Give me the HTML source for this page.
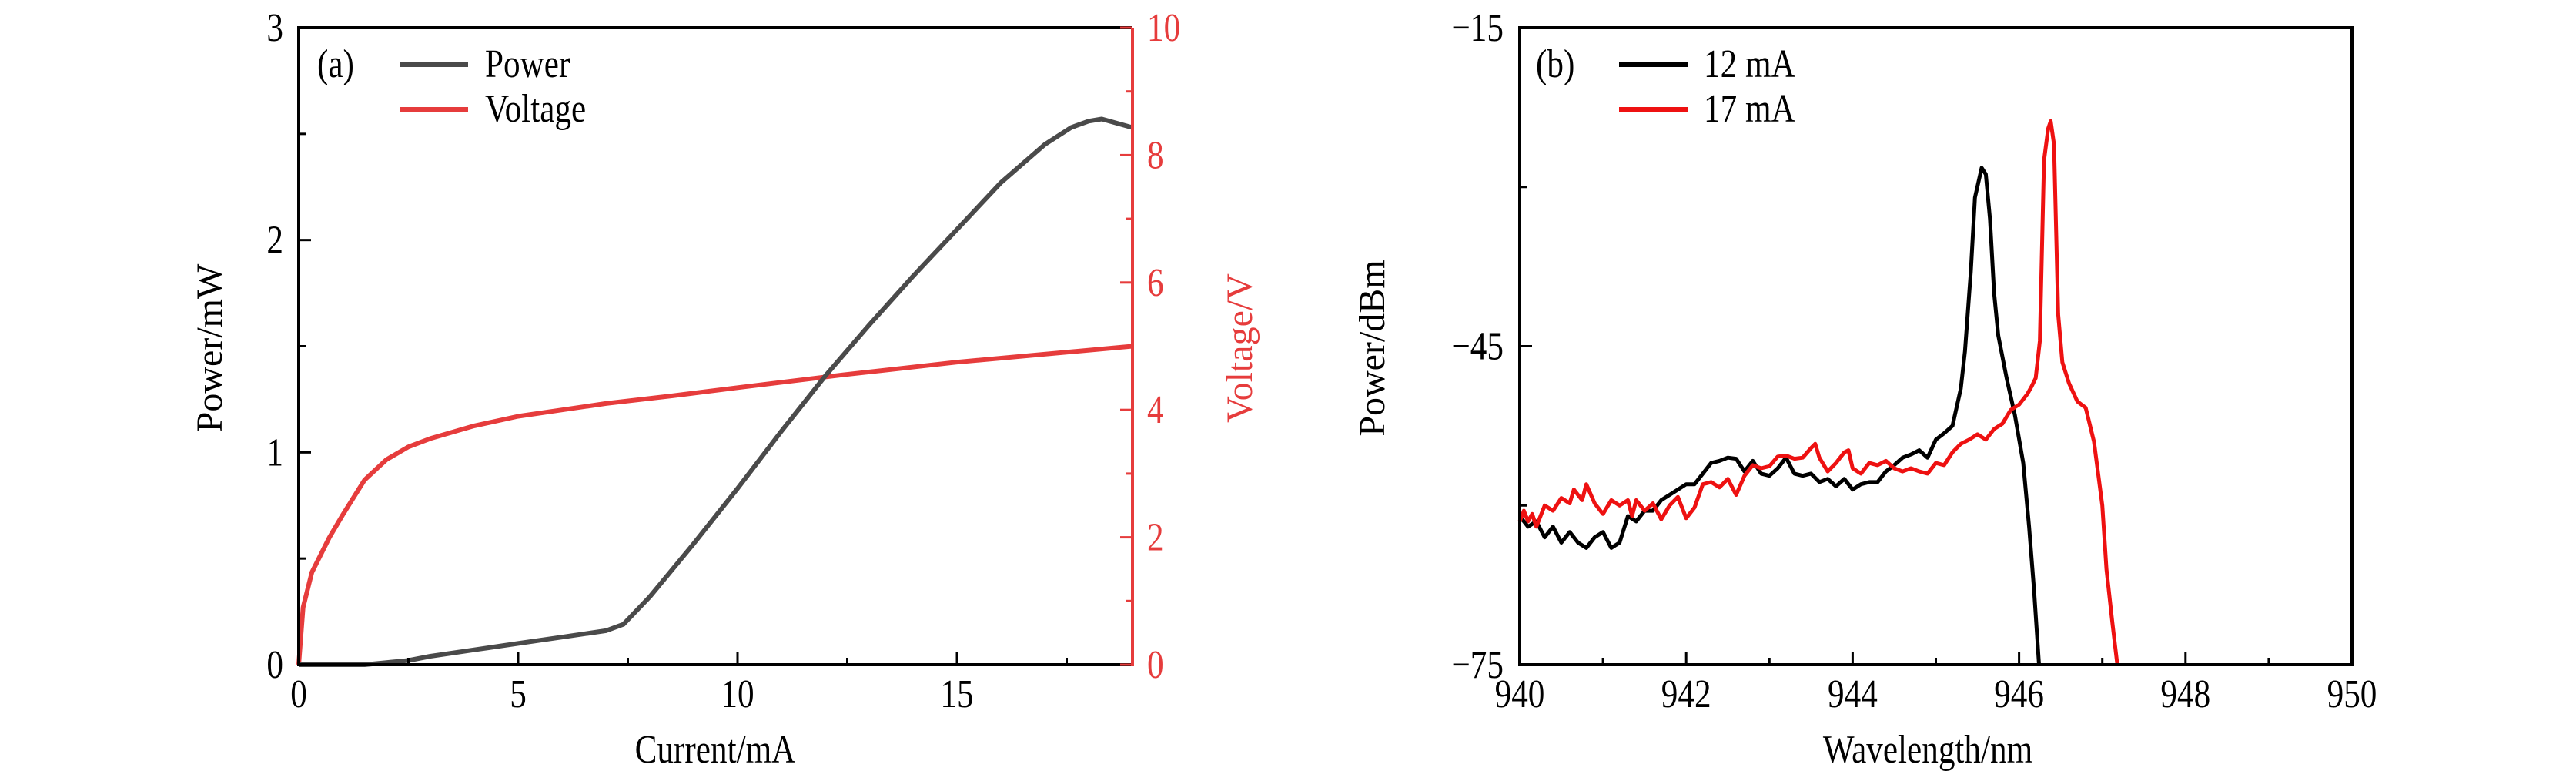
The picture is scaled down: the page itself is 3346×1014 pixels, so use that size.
<!DOCTYPE html>
<html><head><meta charset="utf-8"><style>
html,body{margin:0;padding:0;background:#fff;}
svg{display:block;font-family:"Liberation Serif",serif;}
</style></head><body>
<svg id="fig" width="3346" height="1014" viewBox="0 0 3346 1014" xmlns="http://www.w3.org/2000/svg">
<g id="pa"></g>
<g id="pb"></g>
</svg>
<script>
// Panel (a) data
const currentA = [0,0.1,0.3,0.7,1,1.5,2,2.5,3,4,5,6,7,8.5,10,12.4,15,19];
const voltageA = [0,0.9,1.45,2.0,2.35,2.9,3.22,3.42,3.55,3.75,3.9,4.0,4.1,4.22,4.35,4.55,4.75,5.0];
const currentP = [0,1.5,2,2.5,3,4,5,6,7,7.4,8,9,10,11,12,13,14,15,16,17,17.6,18,18.3,19];
const powerP = [0,0,0.01,0.02,0.04,0.07,0.10,0.13,0.16,0.19,0.32,0.57,0.83,1.1,1.36,1.6,1.83,2.05,2.27,2.45,2.53,2.56,2.57,2.53];
const xTicksA = [0,5,10,15];
const yTicksA = [0,1,2,3];
const y2TicksA = [0,2,4,6,8,10];
// Panel (b) data
const wl12 = [940.0,940.1,940.2,940.3,940.4,940.5,940.6,940.7,940.8,940.9,941.0,941.1,941.2,941.3,941.4,941.5,941.6,941.7,941.8,941.9,942.0,942.1,942.2,942.3,942.4,942.5,942.6,942.7,942.8,942.9,943.0,943.1,943.2,943.3,943.4,943.5,943.6,943.7,943.8,943.9,944.0,944.1,944.2,944.3,944.4,944.5,944.6,944.7,944.8,944.9,945.0,945.1,945.2,945.3,945.35,945.42,945.47,945.55,945.6,945.65,945.7,945.75,945.85,945.95,946.05,946.12,946.18,946.24];
const db12 = [-61,-62,-61.5,-63,-62,-63.5,-62.5,-63.5,-64,-63,-62.5,-64,-63.5,-61,-61.5,-60.5,-60.5,-59.5,-59,-58.5,-58,-58,-57,-56,-55.8,-55.5,-55.6,-56.8,-55.8,-57,-57.2,-56.5,-55.5,-57,-57.2,-57,-57.8,-57.5,-58.2,-57.5,-58.5,-58,-57.8,-57.8,-56.8,-56.2,-55.5,-55.2,-54.8,-55.5,-53.8,-53.2,-52.5,-49,-45.5,-38,-31,-28.2,-28.8,-33,-40,-44,-48,-51.5,-56,-62,-68,-75];
const wl17 = [940.0,940.05,940.1,940.15,940.2,940.3,940.4,940.5,940.6,940.65,940.75,940.8,940.9,941.0,941.1,941.2,941.3,941.35,941.4,941.5,941.6,941.7,941.8,941.9,942.0,942.1,942.2,942.3,942.4,942.5,942.6,942.7,942.8,942.9,943.0,943.1,943.2,943.3,943.4,943.5,943.55,943.6,943.7,943.8,943.9,943.95,944.0,944.1,944.2,944.3,944.4,944.5,944.6,944.7,944.8,944.9,945.0,945.1,945.2,945.3,945.4,945.5,945.6,945.7,945.8,945.9,946.0,946.1,946.15,946.2,946.25,946.3,946.35,946.38,946.42,946.47,946.52,946.6,946.7,946.8,946.9,947.0,947.05,947.12,947.18];
const db17 = [-61.5,-60.5,-61.5,-60.8,-62,-60,-60.5,-59.3,-59.8,-58.5,-59.5,-58,-59.8,-60.8,-59.5,-60,-59.5,-61,-59.5,-60.5,-59.8,-61.3,-60,-59.2,-61.2,-60.2,-58,-57.8,-58.3,-57.5,-59,-57.2,-56.2,-56.5,-56.3,-55.4,-55.3,-55.6,-55.5,-54.6,-54.2,-55.5,-56.8,-56,-55,-54.8,-56.5,-57,-56,-56.2,-55.8,-56.5,-56.8,-56.5,-56.8,-57,-56,-56.2,-55,-54.2,-53.8,-53.3,-53.8,-52.8,-52.3,-51,-50.5,-49.5,-48.8,-48,-44.5,-27.5,-24.5,-23.8,-26,-42,-46.5,-48.5,-50.2,-50.8,-54,-60,-66,-71,-75];
const xTicksB = [940,942,944,946,948,950];
const yTicksB = [-15,-45,-75];

const NS="http://www.w3.org/2000/svg";
function mk(parent,tag,attrs,text){const e=document.createElementNS(NS,tag);for(const k in attrs)e.setAttribute(k,attrs[k]);if(text!==undefined)e.textContent=text;parent.appendChild(e);return e;}
const T=36,B=863;
const pa=document.getElementById('pa'), pb=document.getElementById('pb');
const TF='scale(0.9,1.08)';

// ---------- Panel a ----------
const aL=388,aR=1471;
const xa=v=>aL+(v-0)/19*(aR-aL);
const ya=v=>B-(v/3)*(B-T);
const ya2=v=>B-(v/10)*(B-T);
function pathD(xs,ys,fx,fy){return xs.map((x,i)=>(i?'L':'M')+fx(x).toFixed(1)+','+fy(ys[i]).toFixed(1)).join(' ');}
function label(parent,x,y,txt,anchor,fill,name){
  const e=mk(parent,'text',{x:0,y:0,'font-size':48,'text-anchor':anchor,fill:fill,transform:`translate(${x},${y}) ${TF}`},txt);
  return e;}
let e;
e=mk(pa,'path',{d:pathD(currentA,voltageA,xa,ya2),fill:'none',stroke:'#e63c3c','stroke-width':6,'stroke-linejoin':'round'});

e=mk(pa,'path',{d:pathD(currentP,powerP,xa,ya),fill:'none',stroke:'#4a4a4a','stroke-width':6,'stroke-linejoin':'round'});

e=mk(pa,'path',{d:`M${aR},${T} L${aL},${T} L${aL},${B} L${aR},${B}`,fill:'none',stroke:'#000','stroke-width':4});

e=mk(pa,'line',{x1:aR,y1:T,x2:aR,y2:B+2,stroke:'#e63c3c','stroke-width':4});

for(let v=0;v<=19;v+=2.5){const x=xa(v);const maj=v%5===0;mk(pa,'line',{x1:x,y1:B,x2:x,y2:B-(maj?16:9),stroke:'#000','stroke-width':3});}
xTicksA.forEach(v=>label(pa,xa(v),918,v,'middle','#000','x-tick-label'));
for(let v=0;v<=3;v+=0.5){const y=ya(v);mk(pa,'line',{x1:aL,y1:y,x2:aL+(v%1===0?16:9),y2:y,stroke:'#000','stroke-width':3});}
yTicksA.forEach(v=>label(pa,368,ya(v)+17,v,'end','#000','y-tick-label'));
for(let v=0;v<=10;v+=1){const y=ya2(v);mk(pa,'line',{x1:aR,y1:y,x2:aR-(v%2===0?16:9),y2:y,stroke:'#e63c3c','stroke-width':3});}
y2TicksA.forEach(v=>label(pa,1490,ya2(v)+17,v,'start','#e63c3c','y2-tick-label'));
label(pa,929,990,'Current/mA','middle','#000','x-axis-title-a');
e=mk(pa,'text',{x:0,y:0,'font-size':48,'text-anchor':'middle',transform:'translate(288,452) rotate(-90)'},'Power/mW');
e=mk(pa,'text',{x:0,y:0,'font-size':48,'text-anchor':'middle',fill:'#e63c3c',transform:'translate(1626,452) rotate(-90)'},'Voltage/V');
label(pa,412,100,'(a)','start','#000','panel-label-a');
mk(pa,'line',{x1:520,y1:84,x2:608,y2:84,stroke:'#4a4a4a','stroke-width':6});
label(pa,630,100,'Power','start','#000','legend-entry-power');
mk(pa,'line',{x1:520,y1:142,x2:608,y2:142,stroke:'#e63c3c','stroke-width':6});
label(pa,630,158,'Voltage','start','#000','legend-entry-voltage');

// ---------- Panel b ----------
const bL=1974,bR=3055;
const xb=v=>bL+(v-940)/10*(bR-bL);
const yb=v=>B-((v+75)/60)*(B-T);
e=mk(pb,'path',{d:pathD(wl12,db12,xb,yb),fill:'none',stroke:'#000','stroke-width':5,'stroke-linejoin':'round'});

e=mk(pb,'path',{d:pathD(wl17,db17,xb,yb),fill:'none',stroke:'#ee1111','stroke-width':5,'stroke-linejoin':'round'});

e=mk(pb,'rect',{x:bL,y:T,width:bR-bL,height:B-T,fill:'none',stroke:'#000','stroke-width':4});

for(let v=940;v<=950;v+=1){const x=xb(v);mk(pb,'line',{x1:x,y1:B,x2:x,y2:B-((v%2===0)?16:9),stroke:'#000','stroke-width':3});}
xTicksB.forEach(v=>label(pb,xb(v),918,v,'middle','#000','x-tick-label'));
for(let v=-75;v<=-15;v+=15){const y=yb(v);mk(pb,'line',{x1:bL,y1:y,x2:bL+((v+15)%30===0?16:9),y2:y,stroke:'#000','stroke-width':3});}
yTicksB.forEach(v=>label(pb,1953,yb(v)+17,'\u2212'+Math.abs(v),'end','#000','y-tick-label'));
label(pb,2504,990,'Wavelength/nm','middle','#000','x-axis-title-b');
e=mk(pb,'text',{x:0,y:0,'font-size':48,'text-anchor':'middle',transform:'translate(1798,452) rotate(-90)'},'Power/dBm');
label(pb,1995,100,'(b)','start','#000','panel-label-b');
mk(pb,'line',{x1:2103,y1:84,x2:2193,y2:84,stroke:'#000','stroke-width':6});
label(pb,2213,100,'12 mA','start','#000','legend-entry-12ma');
mk(pb,'line',{x1:2103,y1:142,x2:2193,y2:142,stroke:'#ee1111','stroke-width':6});
label(pb,2213,158,'17 mA','start','#000','legend-entry-17ma');
</script>
</body></html>
